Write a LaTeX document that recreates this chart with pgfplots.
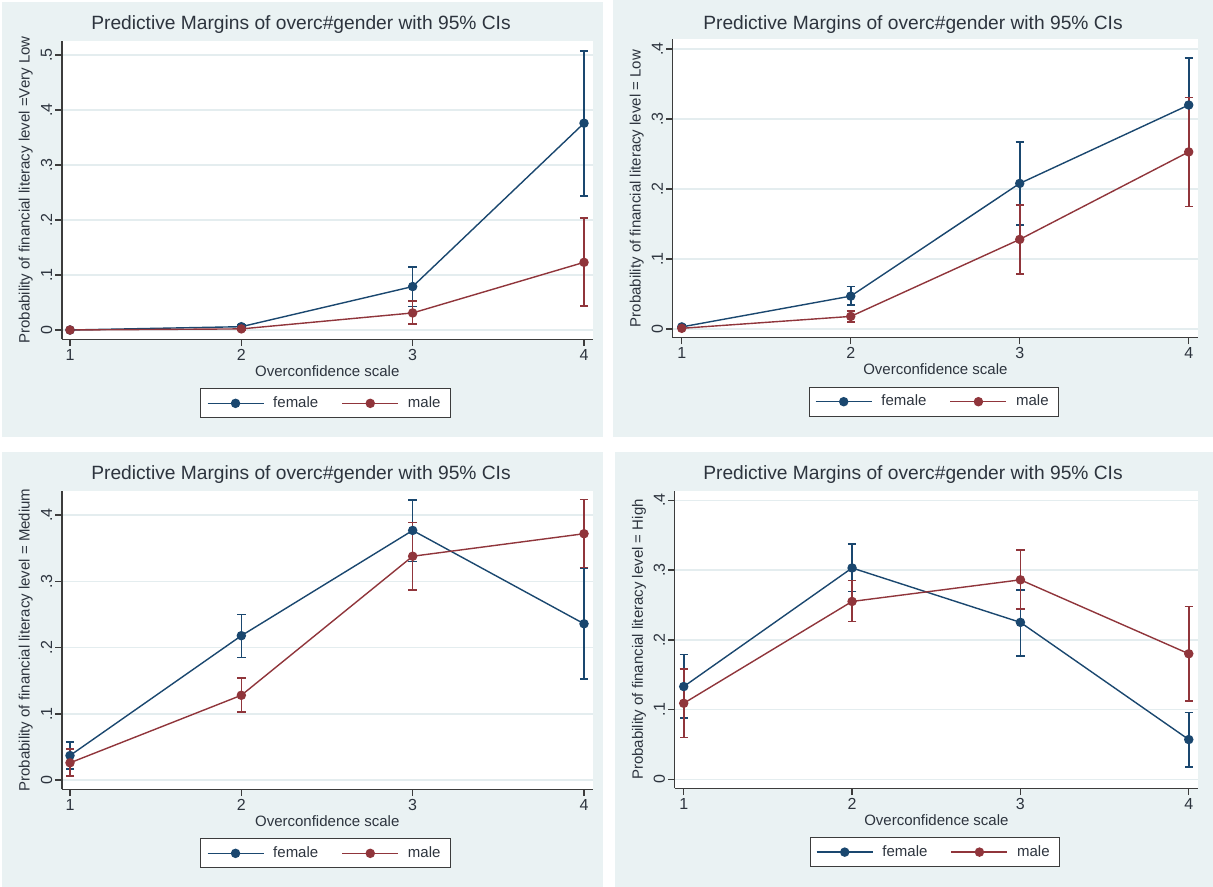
\documentclass[border=0pt]{standalone}
\usepackage{fontspec}
\setmainfont{Liberation Sans}
\usepackage{pgfplots}
\usepackage{pgfplotstable}
\pgfplotsset{compat=1.18}

\definecolor{navy}{RGB}{26,71,111}
\definecolor{maroon}{RGB}{144,53,59}
\definecolor{bgc}{RGB}{234,242,243}
\definecolor{gridc}{RGB}{228,237,239}
\definecolor{txtc}{RGB}{45,52,62}
\definecolor{axc}{RGB}{60,60,60}
\newcommand{\fs}{\fontsize{7.5}{9}\selectfont}
\newcommand{\fk}{\fontsize{8}{9.5}\selectfont}
\newcommand{\ft}{\fontsize{9.6}{11.5}\selectfont}

\pgfplotstableread{
x y lo hi
1 0.000 0.000 0.001
2 0.006 0.002 0.010
3 0.079 0.043 0.115
4 0.376 0.244 0.507
}\VLfem
\pgfplotstableread{
x y lo hi
1 0.000 0.000 0.001
2 0.002 0.000 0.004
3 0.031 0.011 0.053
4 0.123 0.044 0.204
}\VLmal
\pgfplotstableread{
x y lo hi
1 0.003 0.000 0.006
2 0.047 0.034 0.061
3 0.208 0.149 0.267
4 0.320 0.253 0.387
}\Lfem
\pgfplotstableread{
x y lo hi
1 0.001 0.000 0.003
2 0.018 0.010 0.026
3 0.128 0.079 0.177
4 0.253 0.175 0.331
}\Lmal
\pgfplotstableread{
x y lo hi
1 0.037 0.017 0.057
2 0.218 0.185 0.250
3 0.377 0.330 0.423
4 0.236 0.153 0.320
}\Mfem
\pgfplotstableread{
x y lo hi
1 0.026 0.006 0.047
2 0.128 0.103 0.154
3 0.338 0.287 0.389
4 0.372 0.321 0.424
}\Mmal
\pgfplotstableread{
x y lo hi
1 0.133 0.088 0.179
2 0.303 0.269 0.337
3 0.225 0.177 0.271
4 0.057 0.018 0.096
}\Hfem
\pgfplotstableread{
x y lo hi
1 0.109 0.060 0.158
2 0.255 0.226 0.285
3 0.286 0.244 0.329
4 0.180 0.112 0.248
}\Hmal

\pgfplotsset{
  panel/.style={
    scale only axis, anchor=south west,
    axis x line*=bottom, axis y line*=left,
    axis line style={axc, line width=0.6pt},
    axis background/.style={fill=white},
    xtick pos=left, ytick pos=left,
    tick align=outside, major tick length=3.4pt,
    xtick style={draw=axc, line width=0.7pt},
    ytick style={draw=axc, line width=0.7pt},
    xtick={1,2,3,4}, xticklabels={1,2,3,4},
    ymajorgrids, grid style={draw=gridc, line width=0.7pt},
    xticklabel style={font=\fk, text=txtc, anchor=center, yshift=-4.45pt},
    yticklabel style={font=\fk, text=txtc, xshift=-4.35pt, rotate=90, anchor=center},
    xlabel={Overconfidence scale},
    every axis x label/.style={at={(axis description cs:0.5,-0.107)}, anchor=center, font=\fs, text=txtc},
    every axis y label/.style={at={(axis description cs:-0.0685,0.5)}, rotate=90, anchor=center, font=\fs, text=txtc},
    legend columns=2,
    legend style={at={(axis description cs:0.497,-0.2145)}, anchor=center, draw=axc, line width=0.5pt, fill=white, font=\fs, text=txtc, inner xsep=3pt, inner ysep=1.75pt, /tikz/column sep=2.5pt, /tikz/every even column/.append style={column sep=9.65pt}},
    legend image code/.code={\draw[mark repeat=2,mark phase=2,##1] plot coordinates {(0pt,0pt) (14pt,0pt) (28pt,0pt)};},
  },
  fem/.style={navy, line width=0.7pt, mark=*, mark size=2pt, mark options={solid,fill=navy,draw=navy},
    error bars/.cd, y dir=both, y explicit, error mark=-, error bar style={line width=0.8pt, navy}, error mark options={rotate=90, line width=0.8pt, navy, mark size=2.1pt}},
  mal/.style={maroon, line width=0.7pt, mark=*, mark size=2pt, mark options={solid,fill=maroon,draw=maroon},
    error bars/.cd, y dir=both, y explicit, error mark=-, error bar style={line width=0.8pt, maroon}, error mark options={rotate=90, line width=0.8pt, maroon, mark size=2.1pt}},
}

\newcommand{\ciplot}[2]{\addplot[#1] table[x=x, y=y, y error plus expr=\thisrow{hi}-\thisrow{y}, y error minus expr=\thisrow{y}-\thisrow{lo}] {#2};}

\begin{document}
\begin{tikzpicture}
\useasboundingbox (0,0) rectangle (606.5pt,443.5pt);
\fill[white] (0,0) rectangle (606.5pt,443.5pt);
\fill[bgc] (1pt,225pt) rectangle (301.5pt,442.5pt);
\fill[bgc] (306.5pt,225pt) rectangle (606.5pt,443.5pt);
\fill[bgc] (1pt,0pt) rectangle (301.5pt,217.5pt);
\fill[bgc] (307.5pt,0pt) rectangle (606.5pt,217.5pt);

\node[font=\ft, text=txtc] at (150.5pt,431pt) {Predictive Margins of overc\#gender with 95\% CIs};
\node[font=\ft, text=txtc] at (456.5pt,431pt) {Predictive Margins of overc\#gender with 95\% CIs};
\node[font=\ft, text=txtc] at (150.5pt,206pt) {Predictive Margins of overc\#gender with 95\% CIs};
\node[font=\ft, text=txtc] at (456.5pt,206pt) {Predictive Margins of overc\#gender with 95\% CIs};

% Very Low
\begin{axis}[panel, at={(31pt,273.85pt)}, width=265.25pt, height=149.3pt,
  xmin=0.9533, xmax=4.0496, ymin=-0.0169, ymax=0.526,
  ytick={0,0.1,0.2,0.3,0.4,0.5}, yticklabels={0,.1,.2,.3,.4,.5},
  ylabel={Probability of financial literacy level =Very Low}]
\ciplot{fem}{\VLfem}
\addlegendentry{female}
\ciplot{mal}{\VLmal}
\addlegendentry{male}
\end{axis}

% Low
\begin{axis}[panel, at={(336.4pt,274.65pt)}, width=262.6pt, height=149.2pt,
  xmin=0.947, xmax=4.055, ymin=-0.0124, ymax=0.4139,
  ytick={0,0.1,0.2,0.3,0.4}, yticklabels={0,.1,.2,.3,.4},
  ylabel={Probability of financial literacy level = Low}]
\ciplot{fem}{\Lfem}
\addlegendentry{female}
\ciplot{mal}{\Lmal}
\addlegendentry{male}
\end{axis}

% Medium
\begin{axis}[panel, at={(31pt,48.85pt)}, width=265.25pt, height=149.3pt,
  xmin=0.9533, xmax=4.0496, ymin=-0.014, ymax=0.437,
  ytick={0,0.1,0.2,0.3,0.4}, yticklabels={0,.1,.2,.3,.4},
  ylabel={Probability of financial literacy level = Medium}]
\ciplot{fem}{\Mfem}
\addlegendentry{female}
\ciplot{mal}{\Mmal}
\addlegendentry{male}
\end{axis}

% High
\begin{axis}[panel, at={(337.4pt,49.35pt)}, width=261.6pt, height=148.8pt,
  xmin=0.947, xmax=4.055, ymin=-0.0129, ymax=0.4138,
  ytick={0,0.1,0.2,0.3,0.4}, yticklabels={0,.1,.2,.3,.4},
  ylabel={Probability of financial literacy level = High}]
\ciplot{fem}{\Hfem}
\addlegendentry{female}
\ciplot{mal}{\Hmal}
\addlegendentry{male}
\end{axis}
\end{tikzpicture}
\end{document}
